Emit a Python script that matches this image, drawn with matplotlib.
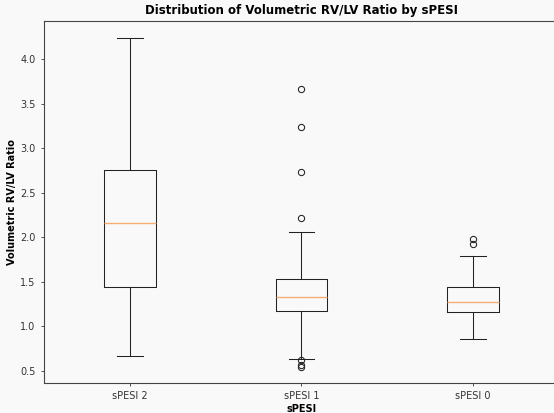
import matplotlib
matplotlib.use("Agg")
import matplotlib.pyplot as plt

# box statistics
groups = ["sPESI 2", "sPESI 1", "sPESI 0"]
whislo = [0.67, 0.635, 0.86]
q1 = [1.44, 1.17, 1.16]
med = [2.155, 1.33, 1.275]
q3 = [2.755, 1.53, 1.44]
whishi = [4.235, 2.055, 1.79]
fliers = [
    [],
    [3.66, 3.235, 2.73, 2.215, 0.62, 0.565, 0.548],
    [1.98, 1.925],
]

stats = []
for i, name in enumerate(groups):
    stats.append({"label": name, "whislo": whislo[i], "q1": q1[i], "med": med[i],
                  "q3": q3[i], "whishi": whishi[i], "fliers": fliers[i]})

bg = "#f9f9f9"
fig = plt.figure(figsize=(5.54, 4.13), dpi=100, facecolor=bg)
ax = fig.add_axes([0.0794, 0.0726, 1.009 - 0.0794, 0.949 - 0.0726])
ax.set_facecolor(bg)

lw = 0.75
ax.bxp(stats, widths=0.3,
       boxprops=dict(linewidth=lw, color="#222222"),
       whiskerprops=dict(linewidth=lw, color="#222222"),
       capprops=dict(linewidth=lw, color="#222222"),
       medianprops=dict(linewidth=1.0, color="#f6ad72"),
       flierprops=dict(marker="o", markersize=4.5, markeredgewidth=lw,
                       markeredgecolor="#222222", markerfacecolor="none"))

ax.set_xlim(0.5, 3.5)
ax.set_ylim(0.365, 4.426)
ax.set_yticks([0.5, 1.0, 1.5, 2.0, 2.5, 3.0, 3.5, 4.0])
ax.tick_params(labelsize=7, length=2.5, width=0.6, colors="#333333")
for s in ax.spines.values():
    s.set_linewidth(0.8)
    s.set_color("#444444")

ax.set_title("Distribution of Volumetric RV/LV Ratio by sPESI", fontsize=8.5,
             fontweight="bold", pad=5)
ax.set_xlabel("sPESI", fontsize=7, fontweight="bold", labelpad=2)
ax.set_ylabel("Volumetric RV/LV Ratio", fontsize=7, fontweight="bold", labelpad=2)

fig.savefig("out.png", dpi=100, facecolor=bg)
